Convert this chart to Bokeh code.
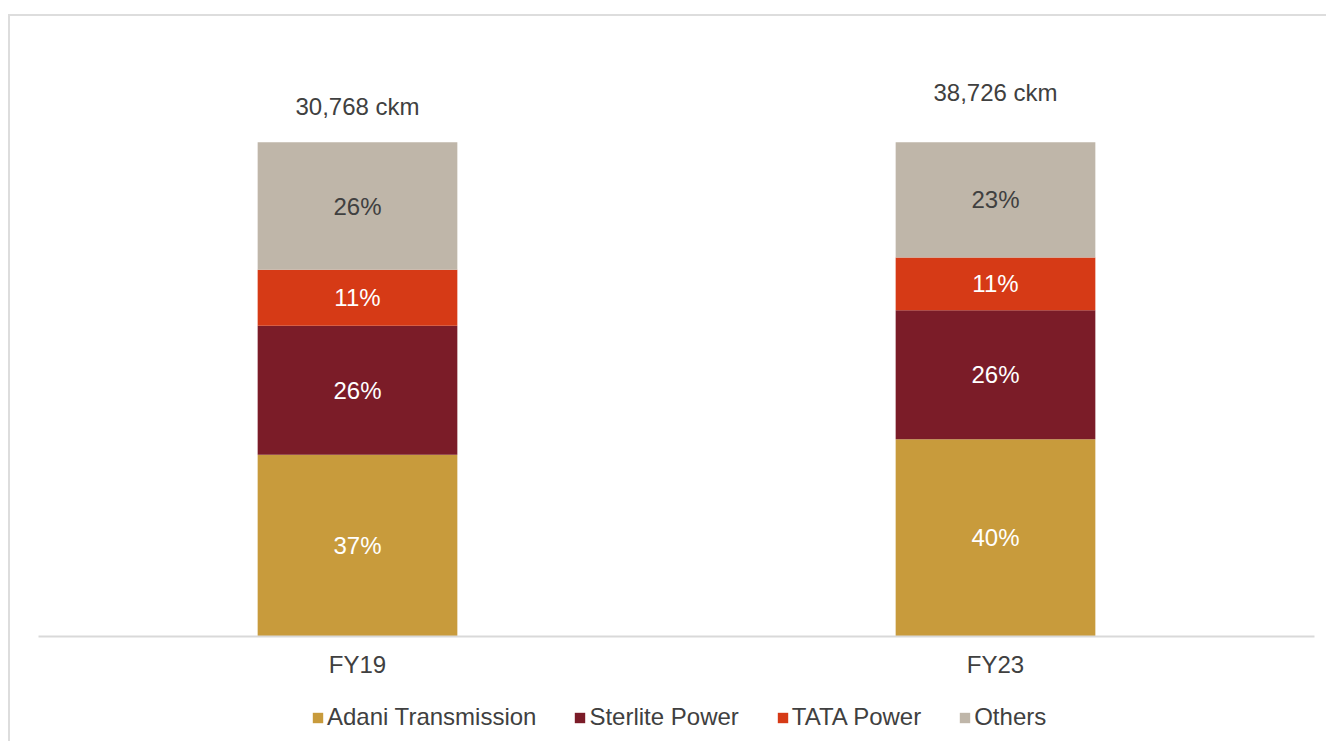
from bokeh.plotting import figure
from bokeh.layouts import column
from bokeh.models import (ColumnDataSource, FactorRange, Range1d, Legend, LegendItem)
from bokeh.core.properties import value
from bokeh.embed import file_html
from bokeh.resources import INLINE

# ---------------- data ----------------
categories = ["FY19", "FY23"]
series = ["Adani Transmission", "Sterlite Power", "TATA Power", "Others"]
adani = [36.8, 39.9]
sterlite = [26.1, 26.1]
tata = [11.3, 10.7]
others = [25.8, 23.3]
totals = ["30,768 ckm", "38,726 ckm"]
total_label_y = [107.3, 110.1]

colors = ["#C89B3C", "#7B1C28", "#D63A16", "#BFB6A9"]
label_colors = ["#FFFFFF", "#FFFFFF", "#FFFFFF", "#404040"]
FONT = "Liberation Sans"
FS = "24px"
TXT = "#404040"
W = 1316

keys = ["adani", "sterlite", "tata", "others"]
data = dict(cat=categories, adani=adani, sterlite=sterlite, tata=tata, others=others)
source = ColumnDataSource(data)

p = figure(x_range=FactorRange(*categories), y_range=Range1d(0, 120),
           width=W, height=675, output_backend="svg", toolbar_location=None,
           min_border_left=28, min_border_right=12, min_border_top=27, min_border_bottom=55)

renderers = p.vbar_stack(keys, x="cat", width=0.313, source=source,
                         color=colors, line_color=None)

# segment labels
lab_x, lab_y, lab_t, lab_c = [], [], [], []
for i, cat in enumerate(categories):
    base = 0.0
    for k, col in zip(keys, label_colors):
        v = data[k][i]
        lab_x.append(cat)
        lab_y.append(base + v / 2)
        lab_t.append(f"{round(v)}%")
        lab_c.append(col)
        base += v
p.text(x=lab_x, y=lab_y, text=lab_t, text_color=lab_c, text_font=value(FONT),
       text_font_size=FS, text_align="center", text_baseline="middle")

# totals
p.text(x=categories, y=total_label_y, text=totals, text_color=TXT, text_font=value(FONT),
       text_font_size=FS, text_align="center", text_baseline="middle")

# axes
p.yaxis.visible = False
p.xgrid.visible = False
p.ygrid.visible = False
p.outline_line_color = None
xa = p.xaxis[0]
xa.axis_line_color = "#D9D9D9"
xa.axis_line_width = 2
xa.major_tick_line_color = None
xa.minor_tick_line_color = None
xa.major_label_text_font = FONT
xa.major_label_text_font_size = FS
xa.major_label_text_color = TXT
xa.major_label_standoff = 8

# legend strip (separate figure below the chart); key swatches use zero-height bars
lf = figure(width=W, height=50, output_backend="svg", toolbar_location=None,
            min_border_left=0, min_border_right=0, min_border_top=0, min_border_bottom=0,
            x_range=Range1d(0, 1), y_range=Range1d(0, 1))
lf.axis.visible = False
lf.grid.visible = False
lf.outline_line_color = None
leg_r = [lf.vbar(x=[0.5], top=[0], bottom=[0], width=0, color=c, line_color=None)
         for c in colors]
items = [LegendItem(label=s, renderers=[r]) for s, r in zip(series, leg_r)]
legend = Legend(items=items, orientation="horizontal", location=(273, 10),
                label_text_font=FONT, label_text_font_size=FS, label_text_color=TXT,
                glyph_width=13, glyph_height=13, label_standoff=3, spacing=37,
                padding=0, margin=0, border_line_color=None, background_fill_alpha=0)
lf.add_layout(legend)

layout = column(p, lf, spacing=0,
                styles={"border-top": "2px solid #DDDDDD", "border-left": "2px solid #DDDDDD",
                        "position": "relative", "top": "14px", "left": "8px"})

open("out.html", "w").write(file_html(layout, INLINE))
